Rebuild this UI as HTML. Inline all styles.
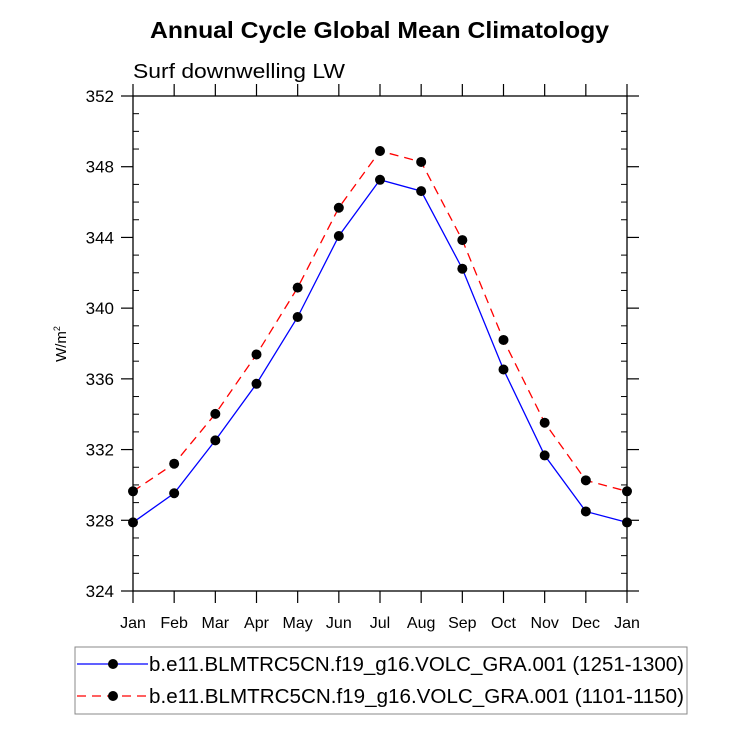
<!DOCTYPE html>
<html><head><meta charset="utf-8"><style>
body{margin:0;background:#fff;}
svg text{font-family:"Liberation Sans",Helvetica,Arial,sans-serif;}
</style></head><body>
<svg id="chart" width="733" height="734" xmlns="http://www.w3.org/2000/svg">
<text x="150" y="38" font-size="23" font-weight="bold" textLength="459" lengthAdjust="spacingAndGlyphs">Annual Cycle Global Mean Climatology</text>
<text x="133" y="78" font-size="20" textLength="212" lengthAdjust="spacingAndGlyphs">Surf downwelling LW</text>
<text transform="translate(66,344) rotate(-90)" text-anchor="middle" font-size="15">W/m<tspan dy="-6" font-size="9">2</tspan></text>
<g id="axes"></g>
<g id="series"></g>
<g id="legend">
<rect x="75" y="647" width="612" height="67" fill="none" stroke="#888" stroke-width="1"/>
<g>
<line x1="77" y1="664" x2="148" y2="664" stroke="#0000ff" stroke-width="1.3"/>
<circle cx="113" cy="664" r="5" fill="#000"/>
<text x="149" y="671" font-size="20" textLength="535" lengthAdjust="spacingAndGlyphs">b.e11.BLMTRC5CN.f19_g16.VOLC_GRA.001 (1251-1300)</text>
</g>
<g>
<line x1="77" y1="696" x2="148" y2="696" stroke="#ff0000" stroke-width="1.3" stroke-dasharray="9,6"/>
<circle cx="113" cy="696" r="5" fill="#000"/>
<text x="149" y="703" font-size="20" textLength="535" lengthAdjust="spacingAndGlyphs">b.e11.BLMTRC5CN.f19_g16.VOLC_GRA.001 (1101-1150)</text>
</g>
</g>
</svg>
<script>
const months=["Jan","Feb","Mar","Apr","May","Jun","Jul","Aug","Sep","Oct","Nov","Dec","Jan"];
const series1=[327.88,329.53,332.52,335.72,339.50,344.08,347.26,346.62,342.23,336.53,331.67,328.50,327.88];
const series2=[329.64,331.20,334.02,337.38,341.16,345.68,348.89,348.27,343.85,338.20,333.52,330.26,329.64];
const yTicks=[324,328,332,336,340,344,348,352];
const X0=133,X1=627,Y0=96,Y1=591,YMIN=324,YMAX=352;
function xs(i){return X0+(X1-X0)*i/(months.length-1);}
function ys(v){return Y1-(v-YMIN)/(YMAX-YMIN)*(Y1-Y0);}
const NS="http://www.w3.org/2000/svg";
function mk(tag,attrs,parent){const e=document.createElementNS(NS,tag);for(const k in attrs)e.setAttribute(k,attrs[k]);parent.appendChild(e);return e;}
const ax=document.getElementById('axes');
const fr=mk('rect',{x:X0,y:Y0,width:X1-X0,height:Y1-Y0,fill:'none',stroke:'#000','stroke-width':1.3},ax);


months.forEach((m,i)=>{const x=xs(i);
 mk('line',{x1:x,y1:Y1,x2:x,y2:Y1+12,stroke:'#000','stroke-width':1.2},ax);
 mk('line',{x1:x,y1:Y0,x2:x,y2:Y0-12,stroke:'#000','stroke-width':1.2},ax);
 const t=mk('text',{x:x,y:Y1+37,'text-anchor':'middle','font-size':16},ax);t.textContent=m;
 
 
});
for(let v=YMIN;v<=YMAX;v+=1){const y=ys(v);
 if(v%4===0){
  mk('line',{x1:X0-12,y1:y,x2:X0,y2:y,stroke:'#000','stroke-width':1.2},ax);
  mk('line',{x1:X1,y1:y,x2:X1+12,y2:y,stroke:'#000','stroke-width':1.2},ax);
 }else{
  mk('line',{x1:X0,y1:y,x2:X0+6,y2:y,stroke:'#000','stroke-width':1},ax);
  mk('line',{x1:X1-6,y1:y,x2:X1,y2:y,stroke:'#000','stroke-width':1},ax);
 }
}
yTicks.forEach(v=>{const t=mk('text',{x:X0-19,y:ys(v)+6,'text-anchor':'end','font-size':17},ax);t.textContent=v;
 
 
});
const sg=document.getElementById('series');
function draw(data,color,dash,name){
 const g=mk('g',{},sg);
 
 
 const pts=data.map((v,i)=>xs(i)+','+ys(v)).join(' ');
 const attrs={points:pts,fill:'none',stroke:color,'stroke-width':1.3};
 if(dash)attrs['stroke-dasharray']=dash;
 mk('polyline',attrs,g);
 data.forEach((v,i)=>{const c=mk('circle',{cx:xs(i),cy:ys(v),r:5,fill:'#000'},g);
  
  
 });
}
draw(series2,'#ff0000','9,6','series-1101-1150');
draw(series1,'#0000ff',null,'series-1251-1300');
</script>
</body></html>
